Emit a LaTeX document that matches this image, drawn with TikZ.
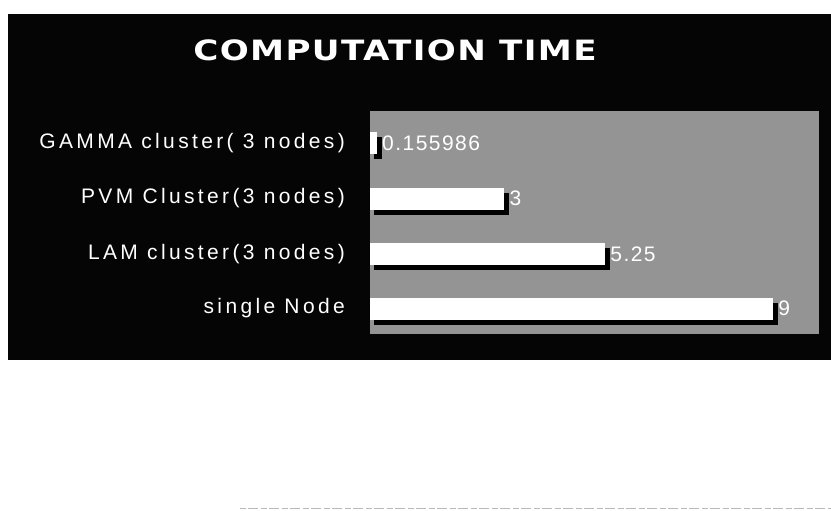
\documentclass[tikz,border=0pt]{standalone}
\usepackage{fontspec}
\setmainfont{Liberation Sans}
\newfontfamily\titlefont{DejaVu Sans}[LetterSpace=4]
\newfontfamily\chartfont{Liberation Sans}[LetterSpace=16]
\newfontfamily\valuefont{Liberation Sans}[LetterSpace=7]
\definecolor{panel}{rgb}{0.02,0.02,0.02}
\definecolor{plotgray}{rgb}{0.58,0.58,0.58}
\definecolor{scanline}{rgb}{0.72,0.72,0.72}
\tikzset{
  x=1pt, y=-1pt,
  cat/.style={anchor=east, text=white, inner sep=0pt, font=\chartfont\fontsize{21}{24}\selectfont},
  val/.style={anchor=west, text=white, inner sep=0pt, font=\valuefont\fontsize{21}{24}\selectfont},
  barshadow/.style={fill=black, draw=none},
  barfill/.style={fill=white, draw=none},
  edge/.style={draw=scanline, line width=0.5pt, dash pattern=on 6pt off 2pt on 10pt off 3pt}
}
\begin{document}
\begin{tikzpicture}
\useasboundingbox (0,0) rectangle (831,511);
\fill[white] (0,0) rectangle (831,511);
% faint page edge at the foot
\draw[edge] (240,508) -- (831,508);
% dark panel
\fill[panel] (8,14) rectangle (831,360);
\node[text=white, inner sep=0pt, font=\titlefont\bfseries\fontsize{28}{32}\selectfont] (title) at (395,50)
  {\scalebox{1.22}[1]{COMPUTATION TIME}};
% plot area
\fill[plotgray] (370,111) rectangle (819,334);
% bars: 1 unit = 44.8 px, bar ends from x = 370
\foreach \name/\v/\yc/\lab/\txt in {
  gamma/0.155986/143/{GAMMA cluster( 3 nodes)}/{0.155986},
  pvm/3/198.5/{PVM Cluster(3 nodes)}/{3},
  lam/5.25/254/{LAM cluster(3 nodes)}/{5.25},
  single/9/308.5/{single Node}/{9}}{
  \pgfmathsetmacro\xe{370+44.8*\v}
  \fill[barshadow] (370+4,\yc-11+5) rectangle (\xe+5,\yc+11+5);
  \fill[barfill] (370,\yc-11) rectangle (\xe,\yc+11);
  \coordinate (\name-end) at (\xe,\yc);
  \node[cat] (\name-label) at (345,\yc) {\lab};
  \node[val] (\name-value) at ([xshift=5pt]\name-end) {\txt};
}
\end{tikzpicture}
\end{document}
